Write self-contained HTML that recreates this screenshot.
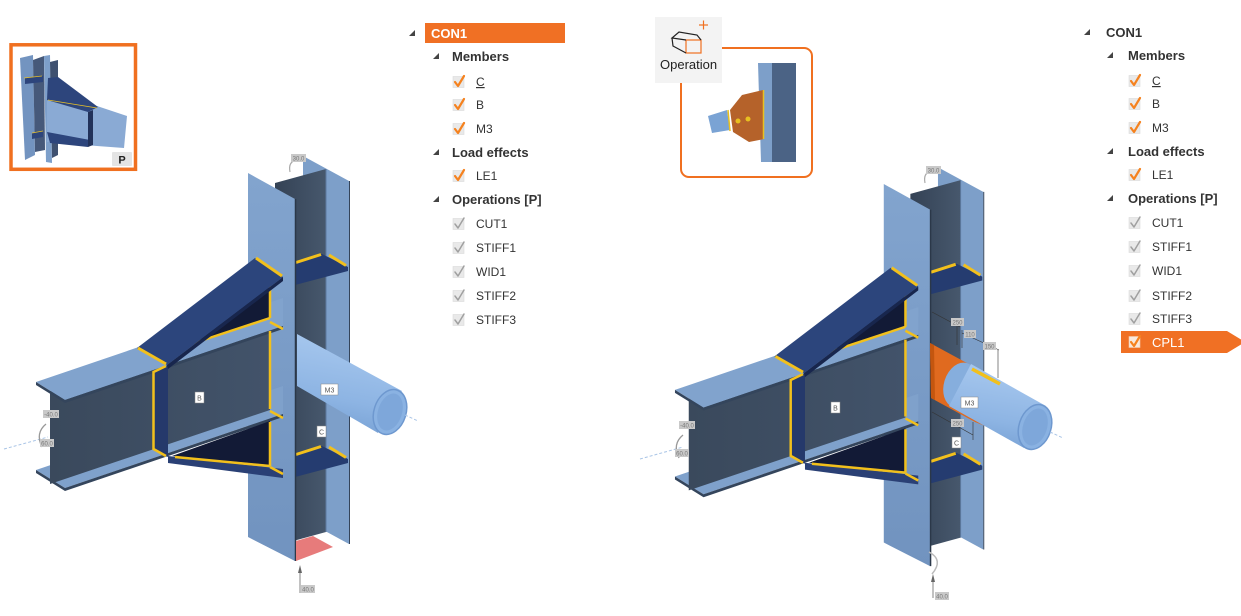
<!DOCTYPE html>
<html><head><meta charset="utf-8"><style>
html,body{margin:0;padding:0;background:#fff;}
body{width:1241px;height:616px;overflow:hidden;position:relative;}
svg{position:absolute;left:0;top:0;}
text{font-family:"Liberation Sans",sans-serif;}
</style></head><body>
<svg width="1241" height="616" viewBox="0 0 1241 616" xmlns="http://www.w3.org/2000/svg">
<defs>
<linearGradient id="fl" x1="0" y1="0" x2="0" y2="1"><stop offset="0" stop-color="#82a4ce"/><stop offset="1" stop-color="#7193bf"/></linearGradient>
<linearGradient id="web" x1="0" y1="0" x2="1" y2="0"><stop offset="0" stop-color="#344255"/><stop offset="1" stop-color="#47586d"/></linearGradient>
<linearGradient id="bweb" x1="0" y1="0" x2="1" y2="0"><stop offset="0" stop-color="#3a495c"/><stop offset="1" stop-color="#42536a"/></linearGradient>
<linearGradient id="tube" x1="0.2" y1="0" x2="0" y2="1"><stop offset="0" stop-color="#a6c7ee"/><stop offset="0.6" stop-color="#8db4e3"/><stop offset="1" stop-color="#739dd1"/></linearGradient>
<g id="m">
 <polygon points="303,156 349,181 349,544 303,519" fill="#7d9fc9"/>
 <line x1="349.5" y1="181" x2="349.5" y2="544" stroke="#34445a" stroke-width="1"/>
 <polygon points="275,183 326,169 326,532 275,546" fill="url(#web)"/>
 <line x1="326" y1="169" x2="326" y2="532" stroke="#5d7aa0" stroke-width="1"/>
 <polygon points="295,262 322,254 348,267 348,271 295,285" fill="#253c70"/>
 <line x1="296" y1="262.5" x2="321" y2="254.5" stroke="#f2c01c" stroke-width="3"/>
 <line x1="329" y1="255" x2="346" y2="265.5" stroke="#f2c01c" stroke-width="3"/>
 <polygon points="295,454 322,446 348,459 348,463 295,477" fill="#253c70"/>
 <line x1="296" y1="454.5" x2="321" y2="446.5" stroke="#f2c01c" stroke-width="3"/>
 <line x1="329" y1="447" x2="346" y2="457.5" stroke="#f2c01c" stroke-width="3"/>
 <polygon points="248,173 295,199 295,561 248,537" fill="url(#fl)"/>
 <line x1="295.5" y1="199" x2="295.5" y2="561" stroke="#2b3849" stroke-width="1.5"/>
 <polygon points="36,470 283,386 283,414 65,488" fill="#7fa1cb"/>
 <polygon points="36,470 65,488 283,414 283,417 65,491 36,473" fill="#34455c"/>
 <polygon points="50,391 270,316 270,410 50,484" fill="url(#bweb)"/>
 <polygon points="36,382 283,298 283,326 65,400" fill="#81a3cd"/>
 <polygon points="36,382 65,400 283,326 283,329 65,403 36,385" fill="#34455c"/>
 <polygon points="153,371 168,366 168,457 153,450" fill="#25396b"/>
 <polyline points="166,366 153.5,372 153.5,449 166,456" fill="none" stroke="#f2c01c" stroke-width="2.5"/>
 <polygon points="150,357 270,283 270,317" fill="#121a36"/>
 <line x1="185" y1="346" x2="270" y2="318" stroke="#f2c01c" stroke-width="2.5"/>
 <line x1="270" y1="286" x2="270" y2="318" stroke="#f2c01c" stroke-width="2.5"/>
 <polygon points="137,348 255,258 283,277 167,365" fill="#2c457c"/>
 <polygon points="167,365 283,277 283,281 168,369" fill="#18264d"/>
 <line x1="138" y1="348" x2="166" y2="364" stroke="#f2c01c" stroke-width="3"/>
 <line x1="256" y1="258" x2="282" y2="276" stroke="#f2c01c" stroke-width="3"/>
 <line x1="270" y1="331" x2="270" y2="409" stroke="#f2c01c" stroke-width="2.5"/>
 <line x1="270" y1="322" x2="283" y2="329" stroke="#f2c01c" stroke-width="2.5"/>
 <line x1="270" y1="411" x2="283" y2="418" stroke="#f2c01c" stroke-width="2.5"/>
 <polygon points="172,456 270,421 270,465" fill="#121a36"/>
 <polygon points="168,456 283,469 283,478 168,463" fill="#2a4075"/>
 <line x1="175" y1="457" x2="270" y2="466" stroke="#f2c01c" stroke-width="2.5"/>
 <line x1="270" y1="422" x2="270" y2="466" stroke="#f2c01c" stroke-width="2.5"/>
 <line x1="270" y1="467" x2="283" y2="474" stroke="#f2c01c" stroke-width="2.5"/>
</g>
</defs>

<!-- LEFT THUMBNAIL -->
<rect x="11" y="44.8" width="124.5" height="124.5" fill="#fff" stroke="#f07020" stroke-width="3.5"/>
<polygon points="20,58 33,55 35,155 25,160" fill="#7394c0"/>
<polygon points="33,60 44,56 45,150 35,152" fill="#46597a"/>
<polygon points="44,56 50,55 52,163 46,162" fill="#7d9fca"/>
<polygon points="50,62 58,60 58,155 52,158" fill="#3f5170"/>
<polygon points="25,78 43,76 43,82 25,84" fill="#2d457c"/>
<polygon points="32,133 43,131 43,137 32,139" fill="#2d457c"/>
<polygon points="47,98 97,106 127,116 124,148 97,146 47,142" fill="#8aaad4"/>
<polygon points="48,78 58,77 98,107 88,112 47,100" fill="#2d457c"/>
<polygon points="47,132 90,140 88,147 50,143" fill="#2d457c"/>
<polygon points="88,112 93,110 93,145 88,147" fill="#22325a"/>
<line x1="48" y1="100" x2="97" y2="108" stroke="#e6c02a" stroke-width="0.8"/>
<line x1="24" y1="78" x2="42" y2="76" stroke="#e6c02a" stroke-width="0.8"/>
<line x1="32" y1="133" x2="43" y2="131" stroke="#e6c02a" stroke-width="0.8"/>
<rect x="112" y="152" width="20" height="14" rx="1" fill="#e4e4e4"/>
<text x="122" y="163.5" font-size="11" font-weight="bold" fill="#222" text-anchor="middle">P</text>

<!-- LEFT MODEL -->
<use href="#m"/>
<polygon points="296,541 313,536 333,547 296,561" fill="#e77b7b"/>
<path d="M297,334 L402,391 L378,433 L297,386 Z" fill="url(#tube)"/>
<ellipse cx="390" cy="412" rx="16" ry="23" transform="rotate(18 390 412)" fill="#8ab2e2" stroke="#6e98cf" stroke-width="1.5"/>
<ellipse cx="390" cy="412" rx="12" ry="19" transform="rotate(18 390 412)" fill="#7ea7da"/>
<line x1="405" y1="415" x2="418" y2="421" stroke="#a8c4e6" stroke-width="1" stroke-dasharray="3,2"/>
<line x1="4" y1="449" x2="48" y2="437" stroke="#a8c4e6" stroke-width="1" stroke-dasharray="3,2"/>
<rect x="195" y="392" width="9" height="11" fill="#fff" stroke="#888" stroke-width="0.5"/>
<text x="199.5" y="400.5" font-size="7" fill="#555" text-anchor="middle">B</text>
<rect x="321" y="384" width="17" height="11" fill="#fff" stroke="#888" stroke-width="0.5"/>
<text x="329.5" y="392.5" font-size="7" fill="#555" text-anchor="middle">M3</text>
<rect x="317" y="426" width="9" height="11" fill="#fff" stroke="#888" stroke-width="0.5"/>
<text x="321.5" y="434.5" font-size="7" fill="#555" text-anchor="middle">C</text>
<path d="M290,172 Q288,162 296,160" fill="none" stroke="#aaa" stroke-width="1.2"/>
<rect x="291" y="154" width="15" height="8" fill="#c9c9c9"/>
<text x="298.5" y="160.5" font-size="6" fill="#777" text-anchor="middle">30.0</text>
<rect x="43" y="410" width="16" height="8" fill="#c9c9c9"/>
<text x="51" y="416.5" font-size="6" fill="#777" text-anchor="middle">-40.0</text>
<path d="M46,424 Q35,433 42,447" fill="none" stroke="#999" stroke-width="1.3"/>
<rect x="40" y="439" width="14" height="8" fill="#c9c9c9"/>
<text x="47" y="445.5" font-size="6" fill="#777" text-anchor="middle">60.0</text>
<line x1="300" y1="567" x2="300" y2="593" stroke="#666" stroke-width="0.8"/>
<polygon points="298,573 300,565 302,573" fill="#666"/>
<rect x="301" y="585" width="14" height="8" fill="#c9c9c9"/>
<text x="308" y="591.5" font-size="6" fill="#777" text-anchor="middle">40.0</text>

<!-- RIGHT MODEL -->
<use href="#m" transform="translate(639.5,13.6) scale(0.985)"/>
<polygon points="930,343 1000,381 1000,432 975,422 931,398" fill="#e06a1f"/>
<polygon points="930,343 934,345 935,400 931,398" fill="#c4560f"/>
<circle cx="958" cy="378" r="4.5" fill="#e8c020" stroke="#7a5a00" stroke-width="0.8"/>
<ellipse cx="960" cy="385" rx="16" ry="23" transform="rotate(18 960 385)" fill="#86aedd"/>
<path d="M971,364 L1046,406 L1024,448 L949,406 Z" fill="url(#tube)"/>
<line x1="972" y1="369" x2="1000" y2="384" stroke="#f2c01c" stroke-width="3.5"/>
<ellipse cx="1035" cy="427" rx="16" ry="23" transform="rotate(18 1035 427)" fill="#8ab2e2" stroke="#6e98cf" stroke-width="1.5"/>
<ellipse cx="1035" cy="427" rx="12" ry="19" transform="rotate(18 1035 427)" fill="#7ea7da"/>
<line x1="1050" y1="432" x2="1063" y2="438" stroke="#a8c4e6" stroke-width="1" stroke-dasharray="3,2"/>
<line x1="640" y1="459" x2="683" y2="447" stroke="#a8c4e6" stroke-width="1" stroke-dasharray="3,2"/>
<g stroke="#333" stroke-width="0.6" fill="none">
<line x1="932" y1="312" x2="960" y2="327"/>
<line x1="957" y1="326" x2="957" y2="345"/>
<line x1="962" y1="330" x2="962" y2="348"/>
<line x1="962" y1="333" x2="999" y2="350"/>
<line x1="998" y1="350" x2="998" y2="378"/>
<line x1="932" y1="412" x2="973" y2="435"/>
<line x1="973" y1="422" x2="973" y2="440"/>
</g>
<rect x="951" y="318" width="13" height="8" fill="#c9c9c9"/>
<text x="957.5" y="324.5" font-size="6" fill="#777" text-anchor="middle">250</text>
<rect x="964" y="330" width="12" height="8" fill="#c9c9c9"/>
<text x="970" y="336.5" font-size="6" fill="#777" text-anchor="middle">110</text>
<rect x="983" y="342" width="13" height="8" fill="#c9c9c9"/>
<text x="989.5" y="348.5" font-size="6" fill="#777" text-anchor="middle">150</text>
<rect x="951" y="419" width="13" height="8" fill="#c9c9c9"/>
<text x="957.5" y="425.5" font-size="6" fill="#777" text-anchor="middle">250</text>
<rect x="831" y="402" width="9" height="11" fill="#fff" stroke="#888" stroke-width="0.5"/>
<text x="835.5" y="410.5" font-size="7" fill="#555" text-anchor="middle">B</text>
<rect x="961" y="397" width="17" height="11" fill="#fff" stroke="#888" stroke-width="0.5"/>
<text x="969.5" y="405.5" font-size="7" fill="#555" text-anchor="middle">M3</text>
<rect x="952" y="437" width="9" height="11" fill="#fff" stroke="#888" stroke-width="0.5"/>
<text x="956.5" y="445.5" font-size="7" fill="#555" text-anchor="middle">C</text>
<path d="M925,183 Q923,173 931,171" fill="none" stroke="#aaa" stroke-width="1.2"/>
<rect x="926" y="166" width="15" height="8" fill="#c9c9c9"/>
<text x="933.5" y="172.5" font-size="6" fill="#777" text-anchor="middle">30.0</text>
<rect x="679" y="421" width="16" height="8" fill="#c9c9c9"/>
<text x="687" y="427.5" font-size="6" fill="#777" text-anchor="middle">-40.0</text>
<path d="M683,435 Q672,444 679,458" fill="none" stroke="#999" stroke-width="1.3"/>
<rect x="675" y="449" width="14" height="8" fill="#c9c9c9"/>
<text x="682" y="455.5" font-size="6" fill="#777" text-anchor="middle">60.0</text>
<path d="M929,552 Q944,560 932,574" fill="none" stroke="#bbb" stroke-width="1.5"/>
<line x1="933" y1="576" x2="933" y2="598" stroke="#666" stroke-width="0.8"/>
<polygon points="931,582 933,574 935,582" fill="#666"/>
<rect x="935" y="592" width="14" height="8" fill="#c9c9c9"/>
<text x="942" y="598.5" font-size="6" fill="#777" text-anchor="middle">40.0</text>

<!-- RIGHT INSET -->
<rect x="681" y="48" width="131" height="129" rx="8" fill="#fff" stroke="#f07020" stroke-width="2"/>
<polygon points="758,63 772,63 772,162 761,162" fill="#7d9fc9"/>
<polygon points="772,63 796,63 796,162 772,162" fill="#4b6385"/>
<polygon points="708,116 727,110 730,130 712,133" fill="#7aa3d4"/>
<polygon points="730,110 742,95 763,90 764,139 749,142 733,132" fill="#b5622a"/>
<line x1="763.5" y1="90" x2="763.5" y2="139" stroke="#e8c020" stroke-width="1.5"/>
<line x1="728" y1="110" x2="730" y2="131" stroke="#e8c020" stroke-width="1.5"/>
<circle cx="738" cy="121" r="2.5" fill="#e8c020"/>
<circle cx="748" cy="119" r="2.5" fill="#e8c020"/>
<rect x="655" y="17" width="67" height="66" fill="#f3f3f3"/>
<rect x="686" y="40" width="15" height="13" fill="none" stroke="#f07020" stroke-width="1.2"/>
<polyline points="686,40 672,38 679,32 697,35 701,40" fill="none" stroke="#222" stroke-width="1.2"/>
<polyline points="672,38 673,46 686,53" fill="none" stroke="#222" stroke-width="1.2"/>
<line x1="699" y1="25" x2="708" y2="25" stroke="#f07020" stroke-width="1.2"/>
<line x1="703.5" y1="20.5" x2="703.5" y2="29.5" stroke="#f07020" stroke-width="1.2"/>
<text x="660" y="69" font-size="13" fill="#222">Operation</text>

<!-- LEFT TREE -->
<g fill="#333" font-size="12">
<polygon points="409,36 415,30 415,36" fill="#444"/>
<rect x="425" y="23" width="140" height="20" fill="#f07024"/>
<text x="431" y="38" font-size="13" font-weight="bold" fill="#fff">CON1</text>
<polygon points="433,59 439,53 439,59" fill="#444"/>
<text x="452" y="61" font-size="13" font-weight="bold">Members</text>
<polygon points="433,155 439,149 439,155" fill="#444"/>
<text x="452" y="157" font-size="13" font-weight="bold">Load effects</text>
<polygon points="433,202 439,196 439,202" fill="#444"/>
<text x="452" y="204" font-size="13" font-weight="bold">Operations [P]</text>
<g fill="#e9e9e9" stroke="#dadada" stroke-width="0.6">
<rect x="453" y="76.5" width="11" height="11"/><rect x="453" y="99.5" width="11" height="11"/><rect x="453" y="123.5" width="11" height="11"/><rect x="453" y="170.5" width="11" height="11"/>
<rect x="453" y="218.5" width="11" height="11"/><rect x="453" y="242.5" width="11" height="11"/><rect x="453" y="266.5" width="11" height="11"/><rect x="453" y="290.5" width="11" height="11"/><rect x="453" y="314.5" width="11" height="11"/>
</g>
<g fill="none" stroke="#f5821f" stroke-width="2.2" stroke-linecap="round" stroke-linejoin="round">
<polyline points="455,82 458,86 464,76"/><polyline points="455,105 458,109 464,99"/><polyline points="455,129 458,133 464,123"/><polyline points="455,176 458,180 464,170"/>
</g>
<g fill="none" stroke="#a0a0a0" stroke-width="1.5" stroke-linecap="round" stroke-linejoin="round">
<polyline points="455,224 458,228 464,218"/><polyline points="455,248 458,252 464,242"/><polyline points="455,272 458,276 464,266"/><polyline points="455,296 458,300 464,290"/><polyline points="455,320 458,324 464,314"/>
</g>
<text x="476" y="86" text-decoration="underline">C</text>
<text x="476" y="109">B</text>
<text x="476" y="133">M3</text>
<text x="476" y="180">LE1</text>
<text x="476" y="228">CUT1</text>
<text x="476" y="252">STIFF1</text>
<text x="476" y="276">WID1</text>
<text x="476" y="300">STIFF2</text>
<text x="476" y="324">STIFF3</text>
</g>

<!-- RIGHT TREE -->
<g fill="#333" font-size="12">
<polygon points="1084,35 1090,29 1090,35" fill="#444"/>
<text x="1106" y="37" font-size="13" font-weight="bold">CON1</text>
<polygon points="1107,58 1113,52 1113,58" fill="#444"/>
<text x="1128" y="60" font-size="13" font-weight="bold">Members</text>
<polygon points="1107,154 1113,148 1113,154" fill="#444"/>
<text x="1128" y="156" font-size="13" font-weight="bold">Load effects</text>
<polygon points="1107,201 1113,195 1113,201" fill="#444"/>
<text x="1128" y="203" font-size="13" font-weight="bold">Operations [P]</text>
<polygon points="1121,331 1227,331 1245,342 1227,353 1121,353" fill="#f07024"/>
<g fill="#e9e9e9" stroke="#dadada" stroke-width="0.6">
<rect x="1129" y="75.5" width="11" height="11"/><rect x="1129" y="98.5" width="11" height="11"/><rect x="1129" y="122.5" width="11" height="11"/><rect x="1129" y="169.5" width="11" height="11"/>
<rect x="1129" y="217.5" width="11" height="11"/><rect x="1129" y="241.5" width="11" height="11"/><rect x="1129" y="265.5" width="11" height="11"/><rect x="1129" y="290.5" width="11" height="11"/><rect x="1129" y="313.5" width="11" height="11"/>
</g>
<rect x="1129" y="336.5" width="11" height="11" fill="#f8e8dc" stroke="#f3c9a8" stroke-width="0.6"/>
<g fill="none" stroke="#f5821f" stroke-width="2.2" stroke-linecap="round" stroke-linejoin="round">
<polyline points="1131,81 1134,85 1140,75"/><polyline points="1131,104 1134,108 1140,98"/><polyline points="1131,128 1134,132 1140,122"/><polyline points="1131,175 1134,179 1140,169"/><polyline points="1131,342 1134,346 1140,336"/>
</g>
<g fill="none" stroke="#a0a0a0" stroke-width="1.5" stroke-linecap="round" stroke-linejoin="round">
<polyline points="1131,223 1134,227 1140,217"/><polyline points="1131,247 1134,251 1140,241"/><polyline points="1131,271 1134,275 1140,265"/><polyline points="1131,296 1134,300 1140,290"/><polyline points="1131,319 1134,323 1140,313"/>
</g>
<text x="1152" y="85" text-decoration="underline">C</text>
<text x="1152" y="108">B</text>
<text x="1152" y="132">M3</text>
<text x="1152" y="179">LE1</text>
<text x="1152" y="227">CUT1</text>
<text x="1152" y="251">STIFF1</text>
<text x="1152" y="275">WID1</text>
<text x="1152" y="300">STIFF2</text>
<text x="1152" y="323">STIFF3</text>
<text x="1152" y="347" font-size="13" fill="#fff">CPL1</text>
</g>
</svg>
</body></html>
